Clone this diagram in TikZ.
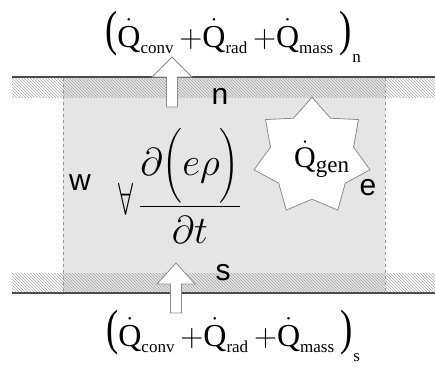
\RequirePackage{fix-cm}
\documentclass[tikz,border=0pt]{standalone}
\usepackage{amsmath}
\usepackage{graphicx}
\usepackage[no-math]{fontspec}
\newfontfamily\tms{Liberation Serif}
\newfontfamily\lab{Liberation Sans}
\usetikzlibrary{patterns}
\newcommand\Qd{\dot{\text{\tms Q}}}
\newcommand\sbx[1]{\hbox{\tms\fontsize{17}{17}\selectfont #1}}
\newcommand\lpar{\mathopen{\raisebox{2pt}{\scalebox{1.15}[1.55]{\tms(}}}}
\newcommand\rpar{\mathclose{\raisebox{2pt}{\scalebox{1.15}[1.55]{\tms)}}}}
\newcommand\flux[1]{$\lpar\Qd_{\sbx{conv}}\,{+}\Qd_{\sbx{rad}}\,{+}\Qd_{\sbx{mass}}\,\rpar\kern1pt\raisebox{-15pt}{\sbx{#1}}$}
\tikzset{
  wall/.style={draw=none,pattern=north west lines,pattern color=gray!70},
  surface/.style={draw=black!70,line width=2pt},
  cvline/.style={draw=gray!80,dashed,line width=0.9pt},
  blockarrow/.style={draw=gray!90,fill=white,line width=0.8pt,line join=miter},
  sidelabel/.style={font=\lab\fontsize{30}{32}\selectfont,inner sep=0pt},
  fluxlabel/.style={font=\fontsize{32}{33}\selectfont,inner sep=0pt},
  fraclabel/.style={font=\fontsize{39}{45}\selectfont,inner sep=0pt},
}
\begin{document}
\begin{tikzpicture}[x=1pt,y=-1pt]
\useasboundingbox (0,0) rectangle (435,375);
% control volume
\fill[gray!20] (63,77) rectangle (385,293);
% walls
\path[wall] (12,78) rectangle (435,97);
\path[wall] (12,273) rectangle (435,292);
\draw[surface] (12,77) -- (435,77);
\draw[surface] (12,293) -- (435,293);
\draw[cvline] (63,78) -- (63,292);
\draw[cvline] (385,78) -- (385,292);
% arrows
\draw[blockarrow] (166.5,107) -- (166.5,77) -- (152,77) -- (172,57) -- (192,77) -- (177.5,77) -- (177.5,107) -- cycle;
\draw[blockarrow] (170.5,313) -- (170.5,284) -- (157,284) -- (176,263) -- (195,284) -- (181.5,284) -- (181.5,313) -- cycle;
% generation star
\coordinate (starc) at (312,156.6);
\draw[blockarrow,shift={(starc)}]
  (-90:59.4) -- (-64.29:42.6) -- (-38.57:59.4) -- (-12.86:42.6) -- (12.86:59.4) -- (38.57:42.6)
  -- (64.29:59.4) -- (90:42.6) -- (115.71:59.4) -- (141.43:42.6) -- (167.14:59.4) -- (192.86:42.6)
  -- (218.57:59.4) -- (244.29:42.6) -- cycle;
\node[font=\fontsize{30}{34}\selectfont,inner sep=0pt,anchor=base west] (qgen) at (294,167)
  {$\Qd_{\hbox{\tms\fontsize{23}{23}\selectfont gen}}$};
% labels
\node[sidelabel] (n) at (220,96) {n};
\node[sidelabel] (s) at (223,273) {s};
\node[sidelabel] (w) at (80,183) {w};
\node[sidelabel] (e) at (368,188) {e};
\node[fluxlabel,anchor=base] (top) at (233,47) {\flux{n}};
\node[fluxlabel,anchor=base] (bot) at (233,346) {\flux{s}};
\node[inner sep=0pt] (vol) at (125.5,199) {\scalebox{0.9}[1.5]{\fontsize{30}{34}\selectfont$\forall$}};
\node[fraclabel,anchor=base] (storage) at (190,216.5) {$\dfrac{\partial\Bigl(e\rho\Bigr)}{\partial t}$};
\end{tikzpicture}
\end{document}
